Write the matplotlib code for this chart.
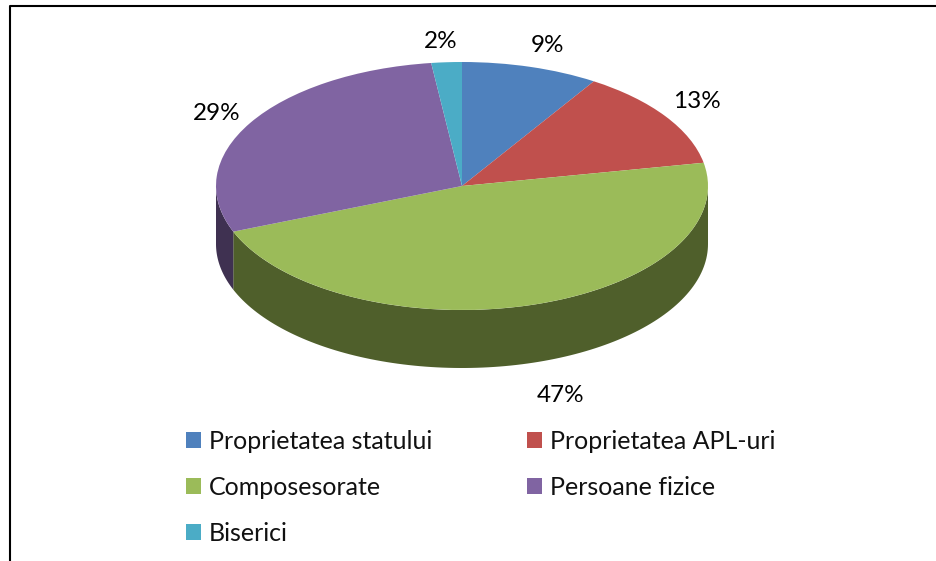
import matplotlib
matplotlib.use('Agg')
import matplotlib.pyplot as plt
from matplotlib.lines import Line2D
from matplotlib.patches import Polygon
import numpy as np

labels = ['Proprietatea statului', 'Proprietatea APL-uri', 'Composesorate', 'Persoane fizice', 'Biserici']
values = [9, 13, 47, 29, 2]
colors = ['#4F81BD', '#C0504D', '#9BBB59', '#8064A2', '#4BACC6']
side_colors = ['#2F4D71', '#772C2A', '#4F5F2B', '#3F3151', '#205867']

W, H = 937, 561
plt.rcParams['font.family'] = ['Lato', 'DejaVu Sans']

fig = plt.figure(figsize=(W / 100, H / 100), dpi=100)
# axes box = bounding box of the top ellipse, so radius 1 fills it
ax = fig.add_axes([216 / W, 1 - 310 / H, 492 / W, 248 / H])
wedges, _ = ax.pie(values, colors=colors, startangle=90, counterclock=False,
                   wedgeprops={'linewidth': 0, 'zorder': 3})
ax.set_aspect('auto')
ax.set_xlim(-1, 1)
ax.set_ylim(-1, 1)
ax.axis('off')

# side wall, only the front half of the ellipse can be seen
depth = 58 / 124
edges = np.cumsum([0] + values) / sum(values) * 360
for i in range(len(values)):
    a = max(edges[i], 90)
    b = min(edges[i + 1], 270)
    if a >= b:
        continue
    t = np.radians(np.linspace(a, b, 120))
    x, y = np.sin(t), np.cos(t)
    pts = np.r_[np.c_[x, y], np.c_[x, y - depth][::-1]]
    ax.add_patch(Polygon(pts, closed=True, fc=side_colors[i], ec='none', zorder=2, clip_on=False))

# percent labels
label_x = [548, 697, 561, 217, 441]
label_y = [45, 101, 396, 114, 41]
for v, lx, ly in zip(values, label_x, label_y):
    fig.text(lx / W, 1 - ly / H, '%d%%' % v, fontsize=17.5, color='black', ha='center', va='center')

order = [0, 2, 4, 1, 3]
fig.legend([wedges[i] for i in order], [labels[i] for i in order], ncol=2,
           loc='upper left', bbox_to_anchor=(186 / W, 1 - 430 / H), frameon=False,
           fontsize=18, handlelength=0.6, handleheight=0.6, handletextpad=0.33,
           labelspacing=0.92, columnspacing=3.76, borderpad=0, borderaxespad=0,
           labelcolor='#111111')

# chart frame, cut off at the bottom and right of the picture
fig.add_artist(Line2D([10 / W, 10 / W, 1], [0, 1 - 6 / H, 1 - 6 / H], color='black', lw=1.5))

fig.savefig('out.png', dpi=100)
